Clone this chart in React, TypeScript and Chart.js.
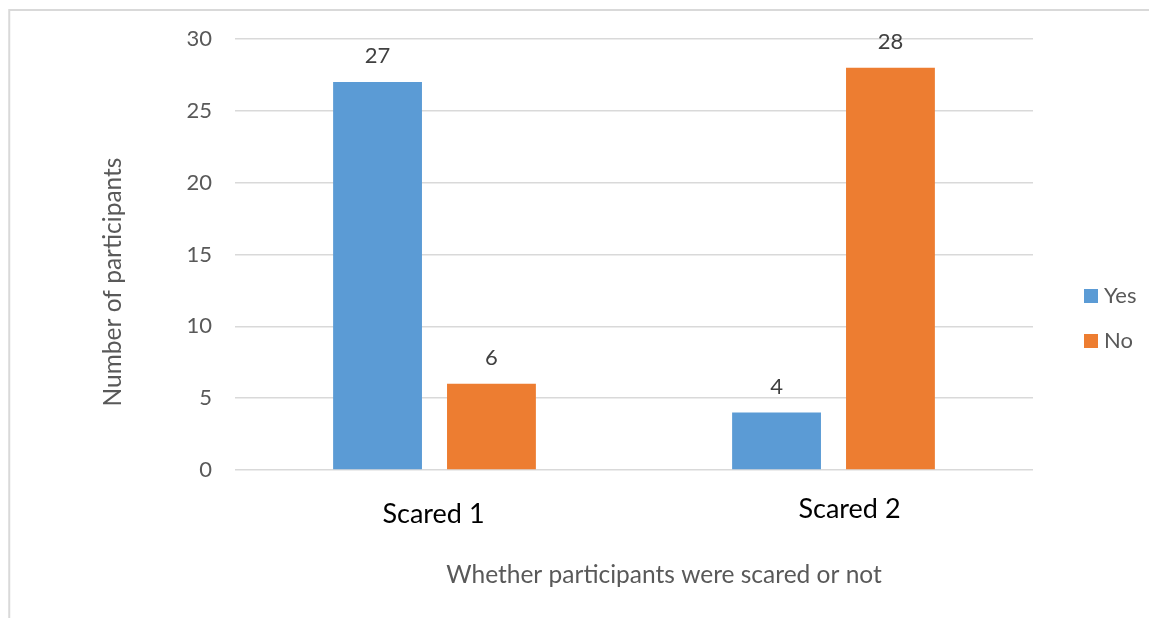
import React, { useEffect, useRef } from "react";
import { Chart, registerables } from "chart.js";

Chart.register(...registerables);

// Chart data
const categories = ["Scared 1", "Scared 2"];
const seriesNames = ["Yes", "No"];
const yesValues = [27, 4];
const noValues = [6, 28];
const yTicks = [0, 5, 10, 15, 20, 25, 30];
const xTitle = "Whether participants were scared or not";
const yTitle = "Number of participants";

const FONT = "Lato, 'Open Sans', 'DejaVu Sans', sans-serif";
const BLUE = "#5B9BD5";
const ORANGE = "#ED7D31";
const GRID = "#d9d9d9";
const TEXT_GRAY = "#595959";

const W = 1149;
const H = 610;

// Light frame along the top and left edge of the chart
const framePlugin = {
  id: "frame",
  beforeDraw(chart: any) {
    const ctx = chart.ctx;
    ctx.save();
    ctx.strokeStyle = GRID;
    ctx.lineWidth = 2;
    ctx.beginPath();
    ctx.moveTo(chart.width, 2);
    ctx.lineTo(1.25, 2);
    ctx.lineTo(1.25, chart.height);
    ctx.stroke();
    ctx.restore();
  },
};

// Value labels above each bar
const valueLabelPlugin = {
  id: "valueLabels",
  afterDatasetsDraw(chart: any) {
    const ctx = chart.ctx;
    ctx.save();
    ctx.font = `22px ${FONT}`;
    ctx.fillStyle = "#404040";
    ctx.textAlign = "center";
    ctx.textBaseline = "middle";
    chart.data.datasets.forEach((ds: any, di: number) => {
      const meta = chart.getDatasetMeta(di);
      meta.data.forEach((el: any, i: number) => {
        ctx.fillText(String(ds.data[i]), el.x, el.y - 26);
      });
    });
    ctx.restore();
  },
};

// Category labels, axis titles and legend
const annotationsPlugin = {
  id: "annotations",
  afterDraw(chart: any) {
    const ctx = chart.ctx;
    const xScale = chart.scales.x;
    const area = chart.chartArea;
    ctx.save();

    // category names below the axis
    const catOffsets = [
      { dx: -1, dy: 44 },
      { dx: 16, dy: 39 },
    ];
    ctx.font = `27px ${FONT}`;
    ctx.fillStyle = "#000000";
    ctx.textAlign = "center";
    ctx.textBaseline = "middle";
    categories.forEach((c, i) => {
      const o = catOffsets[i];
      ctx.fillText(c, xScale.getPixelForValue(i) + o.dx, area.bottom + o.dy);
    });

    // x-axis title
    ctx.font = `24.5px ${FONT}`;
    ctx.fillStyle = TEXT_GRAY;
    ctx.fillText(xTitle, 656, 567);

    // y-axis title
    ctx.save();
    ctx.translate(105, 274);
    ctx.rotate(-Math.PI / 2);
    ctx.fillText(yTitle, 0, 0);
    ctx.restore();

    // legend
    ctx.font = `22px ${FONT}`;
    ctx.textAlign = "left";
    const colors = [BLUE, ORANGE];
    seriesNames.forEach((name, i) => {
      const cy = 288 + i * 45;
      ctx.fillStyle = colors[i];
      ctx.fillRect(1076, cy - 7, 14, 14);
      ctx.fillStyle = TEXT_GRAY;
      ctx.fillText(name, 1096, cy);
    });

    ctx.restore();
  },
};

export default function App() {
  const canvasRef = useRef<HTMLCanvasElement | null>(null);

  useEffect(() => {
    if (!canvasRef.current) return;
    const chart = new Chart(canvasRef.current, {
      type: "bar",
      data: {
        labels: categories,
        datasets: [
          {
            label: seriesNames[0],
            data: yesValues,
            backgroundColor: BLUE,
            categoryPercentage: 0.571,
            barPercentage: 0.78,
          },
          {
            label: seriesNames[1],
            data: noValues,
            backgroundColor: ORANGE,
            categoryPercentage: 0.571,
            barPercentage: 0.78,
          },
        ],
      },
      options: {
        responsive: false,
        animation: false,
        layout: { padding: { top: 31, right: 124, bottom: 148, left: 0 } },
        plugins: {
          legend: { display: false },
          tooltip: { enabled: false },
          title: { display: false },
        },
        scales: {
          x: {
            grid: { display: false },
            border: { display: false },
            ticks: { display: false },
            afterFit: (s: any) => {
              s.height = 0;
              s.paddingLeft = 0;
              s.paddingRight = 0;
            },
          },
          y: {
            min: 0,
            max: 30,
            afterBuildTicks: (s: any) => {
              s.ticks = yTicks.map((v) => ({ value: v }));
            },
            afterFit: (s: any) => {
              s.width = 227;
              s.paddingTop = 0;
              s.paddingBottom = 0;
            },
            grid: { color: GRID, lineWidth: 1.5, drawTicks: false },
            border: { display: false },
            ticks: {
              padding: 23,
              color: TEXT_GRAY,
              font: { family: FONT, size: 22 },
            },
          },
        },
      },
      plugins: [framePlugin, valueLabelPlugin, annotationsPlugin],
    });
    return () => chart.destroy();
  }, []);

  return (
    <div style={{ width: W, height: H }}>
      <canvas ref={canvasRef} width={W} height={H} style={{ display: "block" }} />
    </div>
  );
}
